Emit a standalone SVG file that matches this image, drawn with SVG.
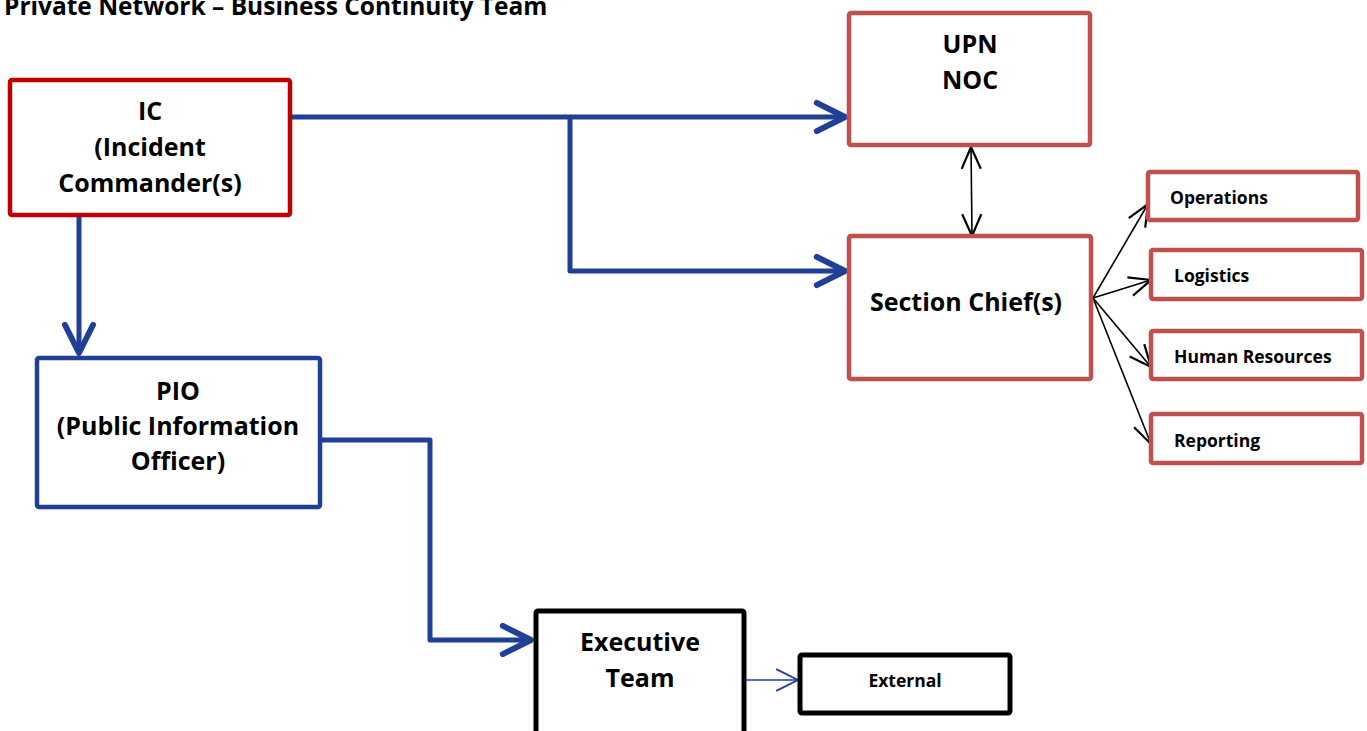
<svg xmlns="http://www.w3.org/2000/svg" width="1367" height="731" viewBox="0 0 1367 731">
<style>
.t{font-family:"Open Sans","Noto Sans","Liberation Sans",sans-serif;font-weight:bold;fill:#000}
.big{font-size:25px;text-anchor:middle}
.sm{font-size:17.5px}
.box{fill:#fff;stroke-width:4.5}
.red{stroke:#C0504D}
.dred{stroke:#C00000}
.blue{stroke:#203F96}
.blk{stroke:#000;stroke-width:5}
.conn{fill:none;stroke:#203F96;stroke-width:5;stroke-linejoin:round}
.thin{fill:none;stroke:#000;stroke-width:1.6}
</style>
<defs>
<marker id="ab" markerUnits="userSpaceOnUse" markerWidth="40" markerHeight="40" viewBox="-30 -15 34 30" refX="0" refY="0" orient="auto">
<polyline points="-24,-12 0,0 -24,12" fill="none" stroke="#203F96" stroke-width="5" stroke-linecap="round" stroke-linejoin="round"/>
</marker>
<marker id="ak" markerUnits="userSpaceOnUse" markerWidth="30" markerHeight="30" viewBox="-20 -10 22 20" refX="0" refY="0" orient="auto-start-reverse">
<polyline points="-16,-7 0,0 -16,7" fill="none" stroke="#000" stroke-width="1.6"/>
</marker>
<marker id="akb" markerUnits="userSpaceOnUse" markerWidth="30" markerHeight="30" viewBox="-20 -10 22 20" refX="0" refY="0" orient="auto">
<polyline points="-16,-8 0,0 -16,8" fill="none" stroke="#203F96" stroke-width="1.4"/>
</marker>
</defs>
<text class="t" x="4" y="15" font-size="24.5">Private Network – Business Continuity Team</text>
<g id="connectors">
<polyline class="conn" points="290,117 570,117 570,271 845,271" marker-end="url(#ab)"/>
<polyline class="conn" points="570,117 845,117" marker-end="url(#ab)"/>
<polyline class="conn" points="79,215 79,353" marker-end="url(#ab)"/>
<polyline class="conn" points="320,440 430,440 430,640 531,640" marker-end="url(#ab)"/>
<line x1="744" y1="680" x2="798" y2="680" stroke="#203F96" stroke-width="1.4" marker-end="url(#akb)"/>
<line class="thin" x1="971" y1="147" x2="972" y2="236" marker-start="url(#ak)" marker-end="url(#ak)"/>
<line class="thin" x1="1093" y1="298" x2="1148" y2="204" marker-end="url(#ak)"/>
<line class="thin" x1="1093" y1="298" x2="1151" y2="280" marker-end="url(#ak)"/>
<line class="thin" x1="1093" y1="298" x2="1151" y2="367" marker-end="url(#ak)"/>
<line class="thin" x1="1093" y1="298" x2="1151" y2="444" marker-end="url(#ak)"/>
</g>
<g id="ic">
<rect class="box dred" x="10" y="80" width="280" height="135" rx="2"/>
<text class="t big" x="150" y="120">IC</text>
<text class="t big" x="150" y="156">(Incident</text>
<text class="t big" x="150" y="192">Commander(s)</text>
</g>
<g id="upn">
<rect class="box red" x="849" y="13" width="241" height="132" rx="2"/>
<text class="t big" x="970" y="53">UPN</text>
<text class="t big" x="970" y="89">NOC</text>
</g>
<g id="section">
<rect class="box red" x="849" y="236" width="242" height="143" rx="2"/>
<text class="t big" x="966" y="311">Section Chief(s)</text>
</g>
<g id="operations">
<rect class="box red" x="1148" y="172" width="210" height="48" rx="2"/>
<text class="t sm" x="1170" y="204">Operations</text>
</g>
<g id="logistics">
<rect class="box red" x="1151" y="250" width="211" height="49" rx="2"/>
<text class="t sm" x="1174" y="282">Logistics</text>
</g>
<g id="hr">
<rect class="box red" x="1151" y="331" width="211" height="48" rx="2"/>
<text class="t sm" x="1174" y="363">Human Resources</text>
</g>
<g id="reporting">
<rect class="box red" x="1151" y="414" width="211" height="49" rx="2"/>
<text class="t sm" x="1174" y="447">Reporting</text>
</g>
<g id="pio">
<rect class="box blue" x="37" y="358" width="283" height="149" rx="2"/>
<text class="t big" x="178" y="400">PIO</text>
<text class="t big" x="178" y="435">(Public Information</text>
<text class="t big" x="178" y="470">Officer)</text>
</g>
<g id="executive">
<rect class="box blk" x="536" y="611" width="208" height="130" rx="2"/>
<text class="t big" x="640" y="651">Executive</text>
<text class="t big" x="640" y="687">Team</text>
</g>
<g id="external">
<rect class="box blk" x="800" y="655" width="210" height="58" rx="2"/>
<text class="t sm" x="905" y="687" text-anchor="middle">External</text>
</g>
</svg>
